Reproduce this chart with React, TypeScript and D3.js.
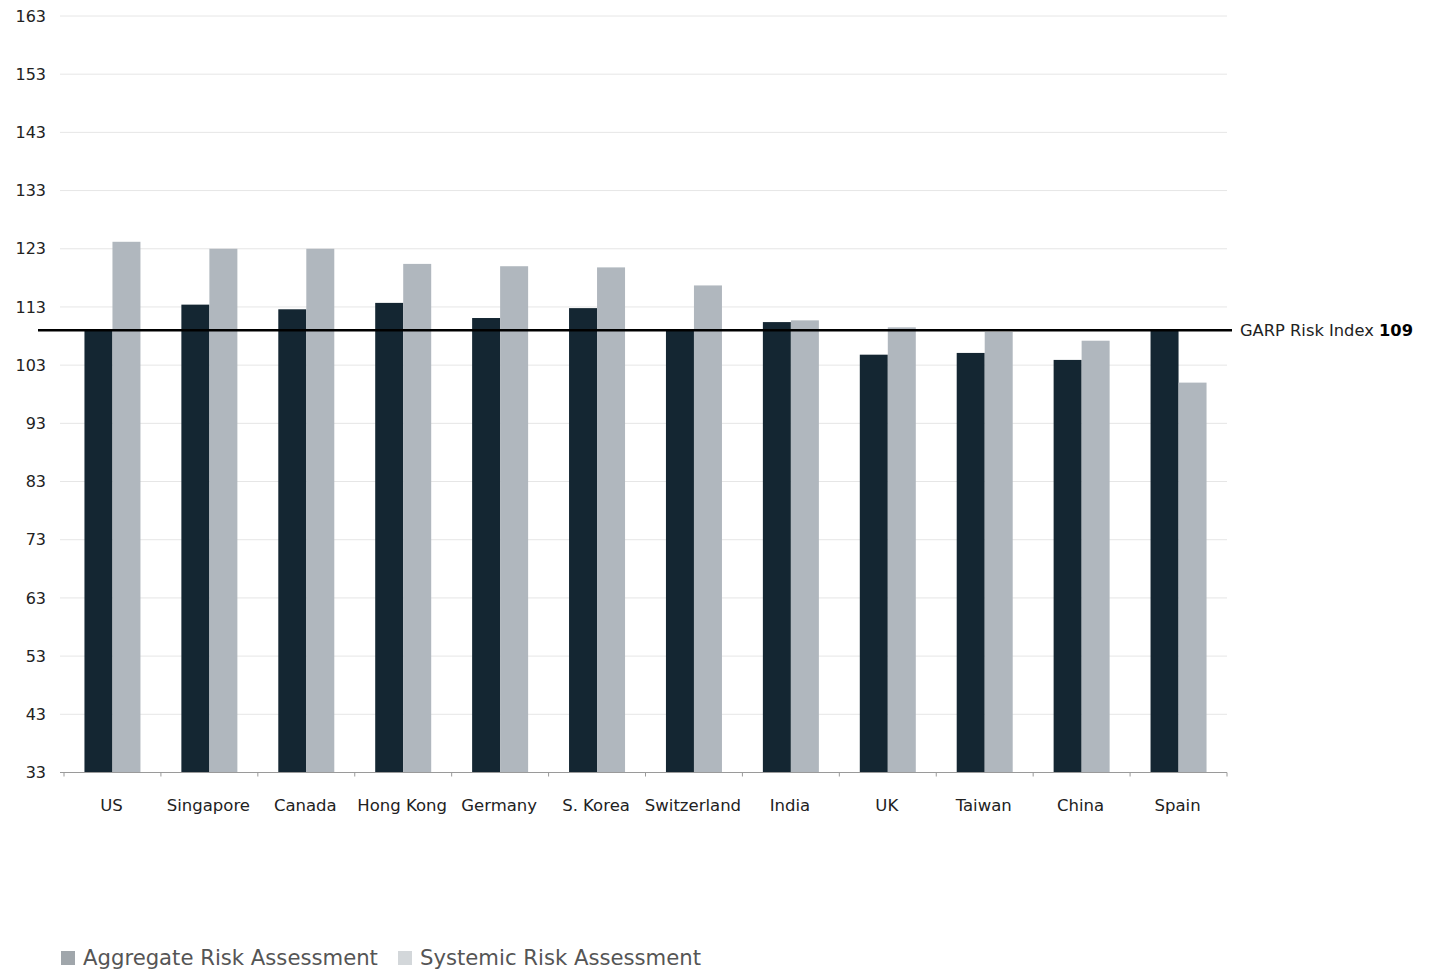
import React from "react";
import * as d3 from "d3";

const countries = ["US", "Singapore", "Canada", "Hong Kong", "Germany", "S. Korea", "Switzerland", "India", "UK", "Taiwan", "China", "Spain"];
const aggregateRisk = [109.2, 113.4, 112.6, 113.7, 111.1, 112.8, 109.1, 110.4, 104.8, 105.1, 103.9, 109.1];
const systemicRisk = [124.2, 123.0, 123.0, 120.4, 120.0, 119.8, 116.7, 110.7, 109.5, 108.7, 107.2, 100.0];
const yTicks = [33, 43, 53, 63, 73, 83, 93, 103, 113, 123, 133, 143, 153, 163];
const riskIndex = 109;
const seriesNames = ["Aggregate Risk Assessment", "Systemic Risk Assessment"];

const W = 1437;
const H = 971;
const FONT = "'DejaVu Sans', sans-serif";
const DARK = "#142632";
const LIGHT = "#b0b7be";

export default function App() {
  const left = 64;
  const right = 1227;
  const top = 16;
  const bottom = 772.5;

  const x = d3.scaleBand<string>().domain(countries).range([left, right]).paddingInner(0).paddingOuter(0);
  const y = d3.scaleLinear().domain([33, 163]).range([bottom, top]);
  const barW = 28;

  const series = [aggregateRisk, systemicRisk];
  const colors = [DARK, LIGHT];
  const legendColors = ["#a0a6ab", "#d3d7da"];

  return (
    <svg width={W} height={H} style={{ position: "absolute", left: 0, top: 0, fontFamily: FONT }}>
      {/* grid */}
      {yTicks.slice(1).map((t) => (
        <line key={t} x1={60} x2={right} y1={y(t)} y2={y(t)} stroke="#e6e6e6" strokeWidth={1} />
      ))}
      {/* y tick labels */}
      {yTicks.map((t) => (
        <text key={t} x={46} y={y(t)} dy="0.35em" textAnchor="end" fontSize={16} fill="#222">
          {t}
        </text>
      ))}
      {/* bars */}
      {countries.map((c, i) => {
        const cx = (x(c) as number) + x.bandwidth() / 2;
        return series.map((s, k) => (
          <rect
            key={c + k}
            x={cx - barW + k * barW}
            y={y(s[i])}
            width={barW}
            height={bottom - y(s[i])}
            fill={colors[k]}
          />
        ));
      })}
      {/* x axis */}
      <line x1={60} x2={right} y1={bottom} y2={bottom} stroke="#9a9a9a" strokeWidth={1} />
      {countries.map((c) => (
        <line key={c} x1={x(c) as number} x2={x(c) as number} y1={bottom} y2={bottom + 4} stroke="#9a9a9a" />
      ))}
      <line x1={right} x2={right} y1={bottom} y2={bottom + 4} stroke="#9a9a9a" />
      {countries.map((c) => (
        <text key={c} x={(x(c) as number) + x.bandwidth() / 2 - 1} y={805} dy="0.35em" textAnchor="middle" fontSize={16.5} fill="#222">
          {c}
        </text>
      ))}
      {/* index line */}
      <line x1={38} x2={1232} y1={y(riskIndex)} y2={y(riskIndex)} stroke="#000" strokeWidth={2.5} />
      <text x={1240} y={y(riskIndex)} dy="0.35em" fontSize={16.3} fill="#222">
        GARP Risk Index <tspan fontWeight="bold" fill="#000">{riskIndex}</tspan>
      </text>
      {/* legend */}
      {seriesNames.map((n, k) => {
        const lx = [61, 398][k];
        return (
          <g key={n}>
            <rect x={lx} y={951} width={14} height={14} fill={legendColors[k]} />
            <text x={lx + 22} y={958} dy="0.35em" fontSize={21.2} fill="#555">
              {n}
            </text>
          </g>
        );
      })}
    </svg>
  );
}
